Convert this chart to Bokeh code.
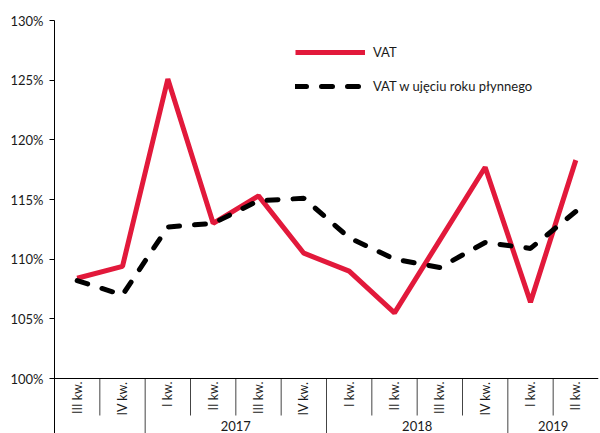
from bokeh.plotting import figure
from bokeh.models import (Range1d, FixedTicker, PrintfTickFormatter, Span, Legend,
                          LegendItem)
from bokeh.core.properties import value
from bokeh.embed import file_html
from bokeh.resources import INLINE
import numpy as np

# ---- data ----
quarters = ["III kw.", "IV kw.", "I kw.", "II kw.", "III kw.", "IV kw.",
            "I kw.", "II kw.", "III kw.", "IV kw.", "I kw.", "II kw."]
year_labels = ["", "2017", "2018", "2019"]
year_counts = [2, 4, 4, 2]
vat = [108.4, 109.4, 125.1, 113.0, 115.3, 110.5, 109.0, 105.5, 111.6, 117.7, 106.4, 118.3]
vat_rolling = [108.2, 107.0, 112.7, 113.0, 114.9, 115.1, 111.8, 110.0, 109.3, 111.4, 110.9, 114.0]
y_ticks = [100, 105, 110, 115, 120, 125, 130]

# ---- layout constants (pixels) ----
W, H = 600, 433
FRAME_TOP, Y100 = 20, 378          # y of 130% and 100%
FRAME_LEFT = 54
PX_PER_UNIT = (Y100 - FRAME_TOP) / 30.0
frame_h = H - FRAME_TOP
y_bottom = 130 - frame_h / PX_PER_UNIT


def vy(py):
    return 130 - (py - FRAME_TOP) / PX_PER_UNIT


n = len(quarters)
x = np.arange(n) + 0.5

p = figure(width=W, height=H, output_backend="svg", toolbar_location=None,
           x_range=Range1d(0, n), y_range=Range1d(y_bottom, 130),
           min_border_left=FRAME_LEFT, min_border_top=FRAME_TOP,
           min_border_right=2, min_border_bottom=0)
p.outline_line_color = None
p.xgrid.visible = False
p.ygrid.visible = False
p.xaxis.visible = False
p.background_fill_color = "white"
p.border_fill_color = "white"

ya = p.yaxis[0]
ya.ticker = FixedTicker(ticks=y_ticks)
ya.formatter = PrintfTickFormatter(format="%d%%")
ya.major_tick_in = 0
ya.major_tick_out = 5
ya.minor_tick_line_color = None
ya.axis_line_color = "black"
ya.major_tick_line_color = "black"
ya.major_label_text_font = "Lato"
ya.major_label_text_font_size = "13px"
ya.major_label_text_color = "#1a1a1a"
ya.major_label_standoff = 6

# x axis line at 100%
p.add_layout(Span(location=100, dimension="width", line_color="black", line_width=1))

# separators
short_y = vy(415)
bounds = np.cumsum(year_counts)[:-1]
short_x = [i for i in range(1, n) if i not in set(bounds.tolist())]
p.segment(x0=short_x, y0=[100] * len(short_x), x1=short_x, y1=[short_y] * len(short_x),
          line_color="#444444", line_width=1)
long_x = bounds.tolist()
p.segment(x0=long_x, y0=[100] * len(long_x), x1=long_x, y1=[y_bottom] * len(long_x),
          line_color="#444444", line_width=1)

# quarter labels (rotated)
p.text(x=x, y=[vy(381)] * n, text=quarters, angle=np.pi / 2,
       text_align="right", text_baseline="middle",
       text_font=value("Lato"), text_font_size="12.5px", text_color="#1a1a1a")

# year labels
starts = np.concatenate([[0], np.cumsum(year_counts)[:-1]])
centers = starts + np.array(year_counts) / 2.0
p.text(x=centers, y=[vy(425)] * len(centers), text=year_labels,
       text_align="center", text_baseline="middle",
       text_font=value("Lato"), text_font_size="13px", text_color="#1a1a1a")

# series
r1 = p.line(x, vat, line_color="#E2193B", line_width=5)
r2 = p.line(x, vat_rolling, line_color="black", line_width=5,
            line_dash="11 15", line_cap="round")

legend = Legend(items=[LegendItem(label="VAT", renderers=[r1]),
                       LegendItem(label="VAT w ujęciu roku płynnego", renderers=[r2])],
                location=(241, 337), glyph_width=70, glyph_height=20,
                label_height=20, spacing=14, label_standoff=8, padding=0, margin=0,
                border_line_color=None, background_fill_alpha=0,
                label_text_font="Lato", label_text_font_size="13px",
                label_text_color="#1a1a1a")
p.add_layout(legend)

open("out.html", "w").write(file_html(p, INLINE))
